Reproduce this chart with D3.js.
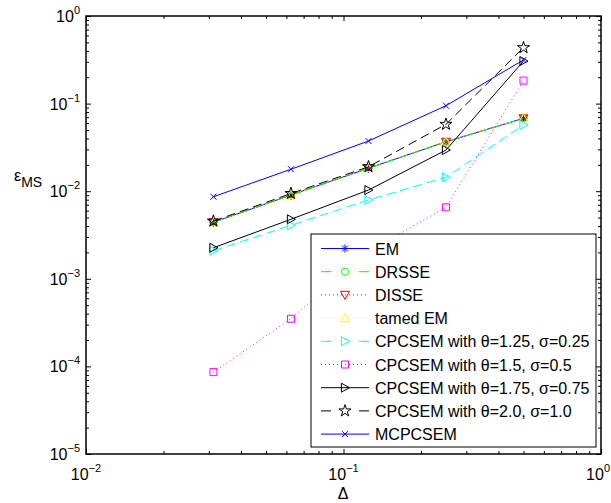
<!DOCTYPE html>
<html>
<head>
<meta charset="utf-8">
<script src="https://cdn.jsdelivr.net/npm/d3@7"></script>
<style>
  body { margin: 0; background: white; }
  text { font-family: "Liberation Sans", Arial, sans-serif; }
</style>
</head>
<body>
<div id="chart"></div>
<script>
const steps = [0.03125, 0.0625, 0.125, 0.25, 0.5];

const emVals      = [0.00442, 0.00905, 0.0183, 0.0367, 0.0679];
const drsseVals   = [0.00440, 0.00900, 0.0182, 0.0365, 0.0676];
const disseVals   = [0.00441, 0.00902, 0.0183, 0.0366, 0.0678];
const tamedVals   = [0.00443, 0.00907, 0.0184, 0.0368, 0.0680];
const cp125Vals   = [0.00209, 0.00408, 0.00794, 0.0144, 0.057];
const cp15Vals    = [0.000086, 0.00035, 0.00205, 0.00655, 0.183];
const cp175Vals   = [0.00226, 0.00478, 0.0103, 0.0295, 0.306];
const cp20Vals    = [0.00455, 0.0094, 0.0190, 0.058, 0.435];
const mcpVals     = [0.00865, 0.0178, 0.0374, 0.0946, 0.315];

const seriesNames = ["EM", "DRSSE", "DISSE", "tamed EM",
  "CPCSEM with θ=1.25, σ=0.25", "CPCSEM with θ=1.5, σ=0.5",
  "CPCSEM with θ=1.75, σ=0.75", "CPCSEM with θ=2.0, σ=1.0", "MCPCSEM"];

const xTickVals = [0.01, 0.1, 1];
const xTickExp = ["-2", "-1", "0"];
const yTickVals = [1e-5, 1e-4, 1e-3, 1e-2, 1e-1, 1];
const yTickExp = ["-5", "-4", "-3", "-2", "-1", "0"];

const series = [
  {name: seriesNames[0], vals: emVals,    color: "#0000ff", dash: null,  marker: "asterisk"},
  {name: seriesNames[1], vals: drsseVals, color: "#00ff00", dash: "9,5", marker: "circle"},
  {name: seriesNames[2], vals: disseVals, color: "#ff0000", dash: "1,3", marker: "tridown"},
  {name: seriesNames[3], vals: tamedVals, color: "#ffff00", dash: "1,3", marker: "triup"},
  {name: seriesNames[4], vals: cp125Vals, color: "#00ffff", dash: "9,5", marker: "triright"},
  {name: seriesNames[5], vals: cp15Vals,  color: "#ff00ff", dash: "1,3", marker: "square"},
  {name: seriesNames[6], vals: cp175Vals, color: "#000000", dash: null,  marker: "triright"},
  {name: seriesNames[7], vals: cp20Vals,  color: "#000000", dash: "9,5", marker: "star"},
  {name: seriesNames[8], vals: mcpVals,   color: "#0000ff", dash: null,  marker: "x"}
];

const w = 611, h = 503;
const padL = 86, padR = 601, padT = 16, padB = 454;

const x = d3.scaleLog().domain([0.01, 1]).range([padL, padR]);
const y = d3.scaleLog().domain([1e-5, 1]).range([padB, padT]);

const svg = d3.select("#chart").append("svg")
  .attr("width", w).attr("height", h)
  .style("background", "white");

function markerPath(type) {
  const s = 4.5;
  switch (type) {
    case "asterisk": return "M-4,0H4M0,-4V4M-3,-3L3,3M-3,3L3,-3";
    case "x": return "M-3,-3L3,3M-3,3L3,-3";
    case "circle": return d3.symbol(d3.symbolCircle, 40)();
    case "square": return "M-3.5,-3.5H3.5V3.5H-3.5Z";
    case "triup": return "M0,-" + s + "L" + s + "," + (s * 0.8) + "L-" + s + "," + (s * 0.8) + "Z";
    case "tridown": return "M0," + s + "L" + s + ",-" + (s * 0.8) + "L-" + s + ",-" + (s * 0.8) + "Z";
    case "triright": return "M" + s + ",0L-" + (s * 0.8) + ",-" + s + "L-" + (s * 0.8) + "," + s + "Z";
    case "star": return d3.symbol(d3.symbolStar, 45)();
  }
}

const line = d3.line().x(d => x(d[0])).y(d => y(d[1]));

// ticks (inside the box, all four sides)
const xMinor = x.ticks().filter(v => !xTickVals.includes(v));
const yMinor = y.ticks().filter(v => !yTickVals.includes(v));

function tickGroup(axis, tr) {
  const g = svg.append("g").attr("transform", tr).call(axis);
  g.select(".domain").remove();
  g.selectAll("text").remove();
  g.selectAll("line").attr("stroke", "#000").attr("stroke-width", 1);
  return g;
}
tickGroup(d3.axisBottom(x).tickValues(xTickVals).tickSize(-5), `translate(0,${padB})`);
tickGroup(d3.axisBottom(x).tickValues(xMinor).tickSize(-3), `translate(0,${padB})`);
tickGroup(d3.axisTop(x).tickValues(xTickVals).tickSize(-5), `translate(0,${padT})`);
tickGroup(d3.axisTop(x).tickValues(xMinor).tickSize(-3), `translate(0,${padT})`);
tickGroup(d3.axisLeft(y).tickValues(yTickVals).tickSize(-5), `translate(${padL},0)`);
tickGroup(d3.axisLeft(y).tickValues(yMinor).tickSize(-3), `translate(${padL},0)`);
tickGroup(d3.axisRight(y).tickValues(yTickVals).tickSize(-5), `translate(${padR},0)`);
tickGroup(d3.axisRight(y).tickValues(yMinor).tickSize(-3), `translate(${padR},0)`);

// series
series.forEach(s => {
  const pts = steps.map((t, i) => [t, s.vals[i]]);
  svg.append("path").datum(pts)
    .attr("d", line)
    .attr("fill", "none")
    .attr("stroke", s.color)
    .attr("stroke-width", 1)
    .attr("stroke-dasharray", s.dash);
  svg.selectAll(null).data(pts).enter().append("path")
    .attr("transform", d => `translate(${x(d[0])},${y(d[1])})`)
    .attr("d", markerPath(s.marker))
    .attr("fill", "none")
    .attr("stroke", s.color)
    .attr("stroke-width", 1);
});

// box
svg.append("rect")
  .attr("x", padL).attr("y", padT)
  .attr("width", padR - padL).attr("height", padB - padT)
  .attr("fill", "none").attr("stroke", "#000").attr("stroke-width", 1.5);

// tick labels (last one kept inside the page)
const xl = svg.selectAll(null).data(xTickVals).enter().append("text")
  .attr("x", (d, i) => i === xTickVals.length - 1 ? w - 1 : x(d)).attr("y", 480)
  .attr("text-anchor", (d, i) => i === xTickVals.length - 1 ? "end" : "middle")
  .attr("font-size", 16);
xl.append("tspan").text("10");
xl.append("tspan").attr("dy", -8).attr("font-size", 11).text((d, i) => xTickExp[i].replace("-", "\u2212"));

const yl = svg.selectAll(null).data(yTickVals).enter().append("text")
  .attr("x", 80).attr("y", d => y(d) + 6)
  .attr("text-anchor", "end")
  .attr("font-size", 16);
yl.append("tspan").text("10");
yl.append("tspan").attr("dy", -8).attr("font-size", 11).text((d, i) => yTickExp[i].replace("-", "\u2212"));

// axis labels
svg.append("text").attr("x", 343).attr("y", 499)
  .attr("text-anchor", "middle").attr("font-size", 16).text("Δ");
const yLab = svg.append("text").attr("x", 14).attr("y", 181).attr("font-size", 16);
yLab.append("tspan").text("ε");
yLab.append("tspan").attr("dy", 6).attr("font-size", 14).text("MS");

// legend
const lx = 311, ly = 234, lw = 285, lh = 213, rowH = 23.2, row0 = 248.5;
svg.append("rect").attr("x", lx).attr("y", ly).attr("width", lw).attr("height", lh)
  .attr("fill", "white").attr("stroke", "#000").attr("stroke-width", 1);
const leg = svg.selectAll(null).data(series).enter().append("g")
  .attr("transform", (d, i) => `translate(0,${row0 + i * rowH})`);
leg.append("line")
  .attr("x1", 321).attr("x2", 369).attr("y1", 0).attr("y2", 0)
  .attr("stroke", d => d.color).attr("stroke-width", 1)
  .attr("stroke-dasharray", d => d.dash === "9,5" ? "10,28,10" : d.dash);
leg.append("path")
  .attr("transform", "translate(345,0)")
  .attr("d", d => markerPath(d.marker))
  .attr("fill", "none").attr("stroke", d => d.color).attr("stroke-width", 1);
leg.append("text").attr("x", 375).attr("y", 6)
  .attr("font-size", 16).text(d => d.name);
</script>
</body>
</html>
